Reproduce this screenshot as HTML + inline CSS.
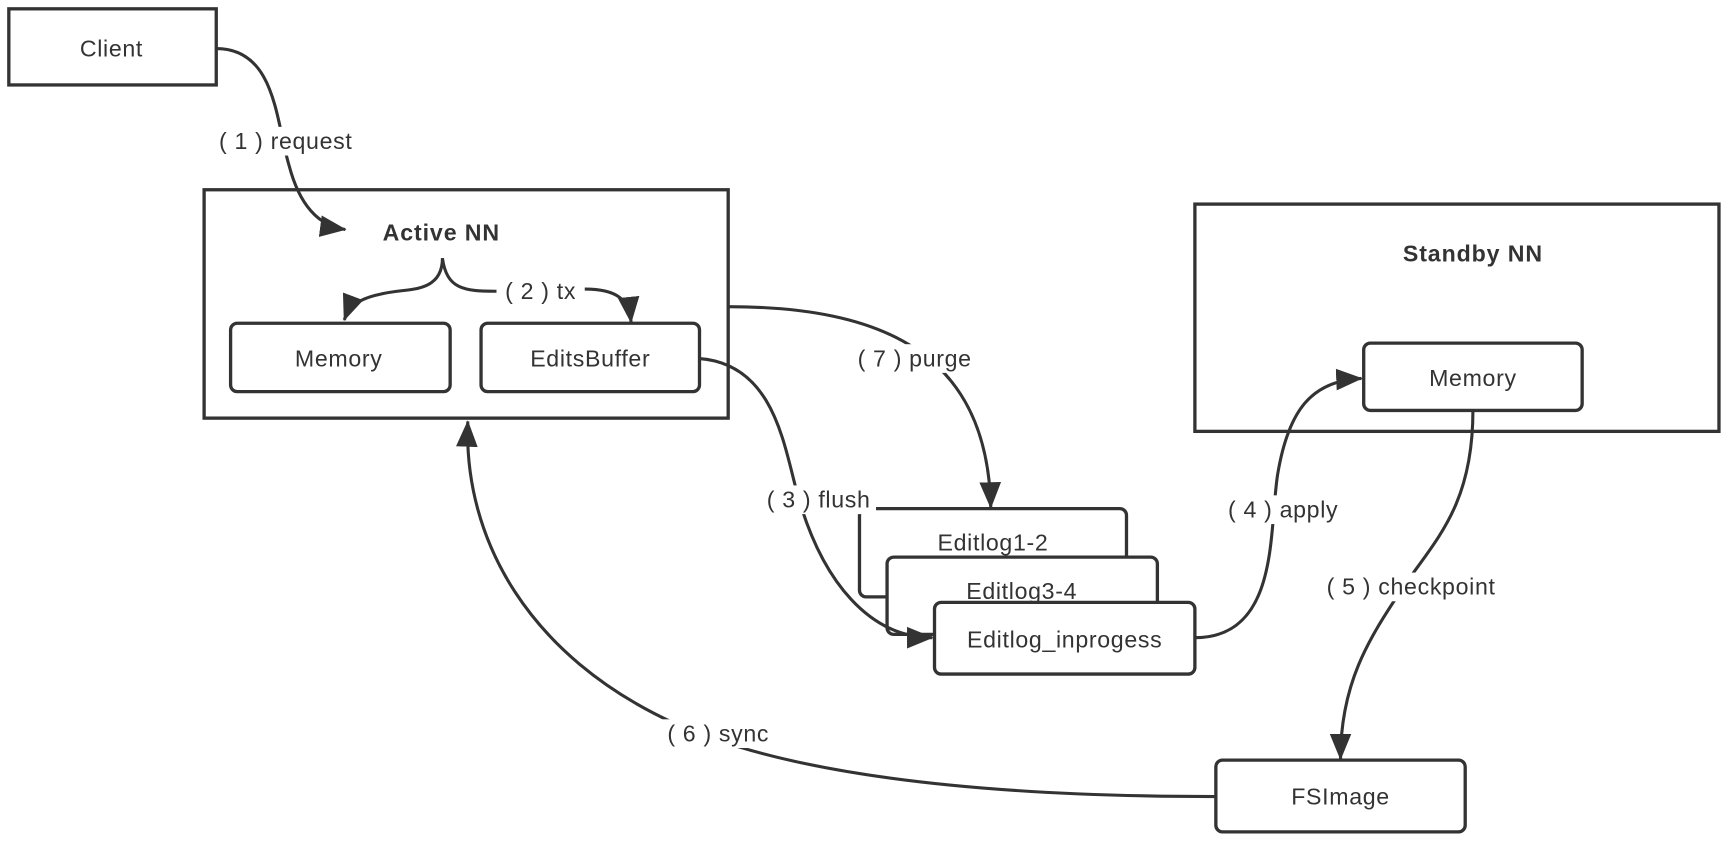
<!DOCTYPE html>
<html><head><meta charset="utf-8"><style>
html,body{margin:0;padding:0;background:#fff;}
svg{display:block;}
text{font-family:"Liberation Sans",sans-serif;font-size:21px;letter-spacing:0.6px;fill:#333;}
.b{font-weight:bold;font-size:21px;letter-spacing:0.8px;}
.bg{fill:#fff;stroke:none;}
.box{fill:#fff;stroke:#333;stroke-width:3;}
.e{fill:none;stroke:#333;stroke-width:2.8;}
</style></head><body>
<svg width="1730" height="842" viewBox="0 0 1568 763.2" preserveAspectRatio="none" xmlns="http://www.w3.org/2000/svg">
<defs>
<marker id="ar" viewBox="0 0 22 18" refX="21" refY="9" markerWidth="24" markerHeight="20" orient="auto" markerUnits="userSpaceOnUse">
<path d="M0,0 L22,9 L0,18 z" fill="#333"/>
</marker>
</defs>

<rect class="box" x="8" y="8" width="188" height="69"/>
<text x="101" y="51" text-anchor="middle">Client</text>

<rect class="box" x="185" y="172" width="475" height="207"/>
<text class="b" x="400" y="218" text-anchor="middle">Active NN</text>
<rect class="box" x="209" y="293" width="199" height="62" rx="6"/>
<text x="307" y="332" text-anchor="middle">Memory</text>
<rect class="box" x="436" y="293" width="198" height="62" rx="6"/>
<text x="535" y="332" text-anchor="middle">EditsBuffer</text>

<rect class="box" x="1083" y="185" width="475" height="206"/>
<text class="b" x="1335" y="237" text-anchor="middle">Standby NN</text>
<rect class="box" x="1236" y="311" width="198" height="61" rx="6"/>
<text x="1335" y="350" text-anchor="middle">Memory</text>

<rect class="box" x="779" y="461" width="242" height="80" rx="6"/>
<text x="900" y="499" text-anchor="middle">Editlog1-2</text>
<rect class="box" x="804" y="505" width="245" height="70" rx="6"/>
<text x="926" y="543" text-anchor="middle">Editlog3-4</text>
<rect class="box" x="847" y="546" width="236" height="65" rx="6"/>
<text x="965" y="587" text-anchor="middle">Editlog_inprogess</text>

<rect class="box" x="1102" y="689" width="226" height="65" rx="6"/>
<text x="1215" y="729" text-anchor="middle">FSImage</text>

<path class="e" marker-end="url(#ar)" d="M196,44 C250,44 250,110 262,150 C272,188 290,205 313,208"/>
<path class="e" marker-end="url(#ar)" d="M401,234 C401,260 380,262 360,264 C330,268 318,274 312,290"/>
<path class="e" d="M401,234 C405,262 420,264 450,264"/>
<path class="e" marker-end="url(#ar)" d="M530,262 C560,262 570,272 572,292"/>
<path class="e" marker-end="url(#ar)" d="M634,325 C700,330 710,400 722,445 C745,530 790,578 845,578"/>
<path class="e" marker-end="url(#ar)" d="M660,278 C800,278 895,320 898,460"/>
<path class="e" marker-end="url(#ar)" d="M1083,578 C1160,578 1150,480 1158,430 C1168,370 1190,345 1234,343"/>
<path class="e" marker-end="url(#ar)" d="M1335,372 C1335,460 1300,490 1270,535 C1240,580 1215,620 1215,688"/>
<path class="e" marker-end="url(#ar)" d="M1102,722 C900,722 720,705 610,655 C480,595 420,490 424,382"/>

<rect class="bg" x="194" y="115" width="130" height="26"/>
<rect class="bg" x="452" y="251" width="76" height="26"/>
<rect class="bg" x="690" y="440" width="104" height="26"/>
<rect class="bg" x="772" y="312" width="114" height="26"/>
<rect class="bg" x="1108" y="449" width="110" height="26"/>
<rect class="bg" x="1198" y="519" width="162" height="26"/>
<rect class="bg" x="600" y="652" width="102" height="26"/>

<text x="259" y="135" text-anchor="middle">( 1 ) request</text>
<text x="490" y="271" text-anchor="middle">( 2 ) tx</text>
<text x="742" y="460" text-anchor="middle">( 3 ) flush</text>
<text x="829" y="332" text-anchor="middle">( 7 ) purge</text>
<text x="1163" y="469" text-anchor="middle">( 4 ) apply</text>
<text x="1279" y="539" text-anchor="middle">( 5 ) checkpoint</text>
<text x="651" y="672" text-anchor="middle">( 6 ) sync</text>
</svg>
</body></html>
